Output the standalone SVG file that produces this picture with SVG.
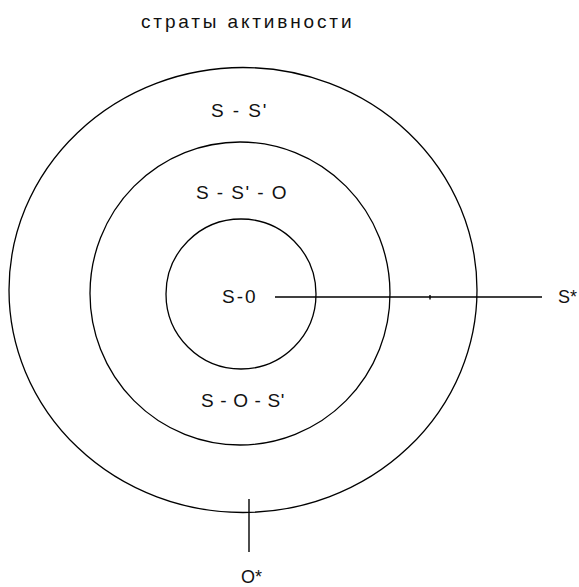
<svg xmlns="http://www.w3.org/2000/svg" width="579" height="587" viewBox="0 0 579 587">
<style>
.ring{fill:none;stroke:#000;stroke-width:1.3}
.ln{fill:none;stroke:#000;stroke-width:1.4}
text{font-family:"Liberation Sans",Arial,sans-serif;font-size:19px;fill:#111;letter-spacing:1.5px}
.edge{letter-spacing:0;font-size:18px}
</style>
<rect width="579" height="587" fill="#fff"/>
<text x="141" y="28" textLength="212">страты активности</text>
<g id="outer"><ellipse class="ring" cx="243" cy="290" rx="234" ry="222.5"/><text x="211" y="117" textLength="57">S - S'</text></g>
<g id="middle"><ellipse class="ring" cx="240" cy="293.5" rx="150" ry="151.5"/><text x="196" y="199" textLength="92">S - S' - O</text><text x="201" y="407" textLength="85">S - O - S'</text></g>
<g id="inner"><circle class="ring" cx="241" cy="294" r="75"/><text x="222" y="303" textLength="35">S-0</text></g>
<g id="connectors">
<line class="ln" x1="275" y1="297" x2="542" y2="297"/>
<line class="ln" x1="430" y1="295" x2="430" y2="299.5"/>
<line class="ln" x1="249" y1="499" x2="249" y2="552"/>
</g>
<g id="Sstar"><text class="edge" x="558" y="303">S*</text></g>
<g id="Ostar"><text class="edge" x="241" y="583">O*</text></g>
</svg>
